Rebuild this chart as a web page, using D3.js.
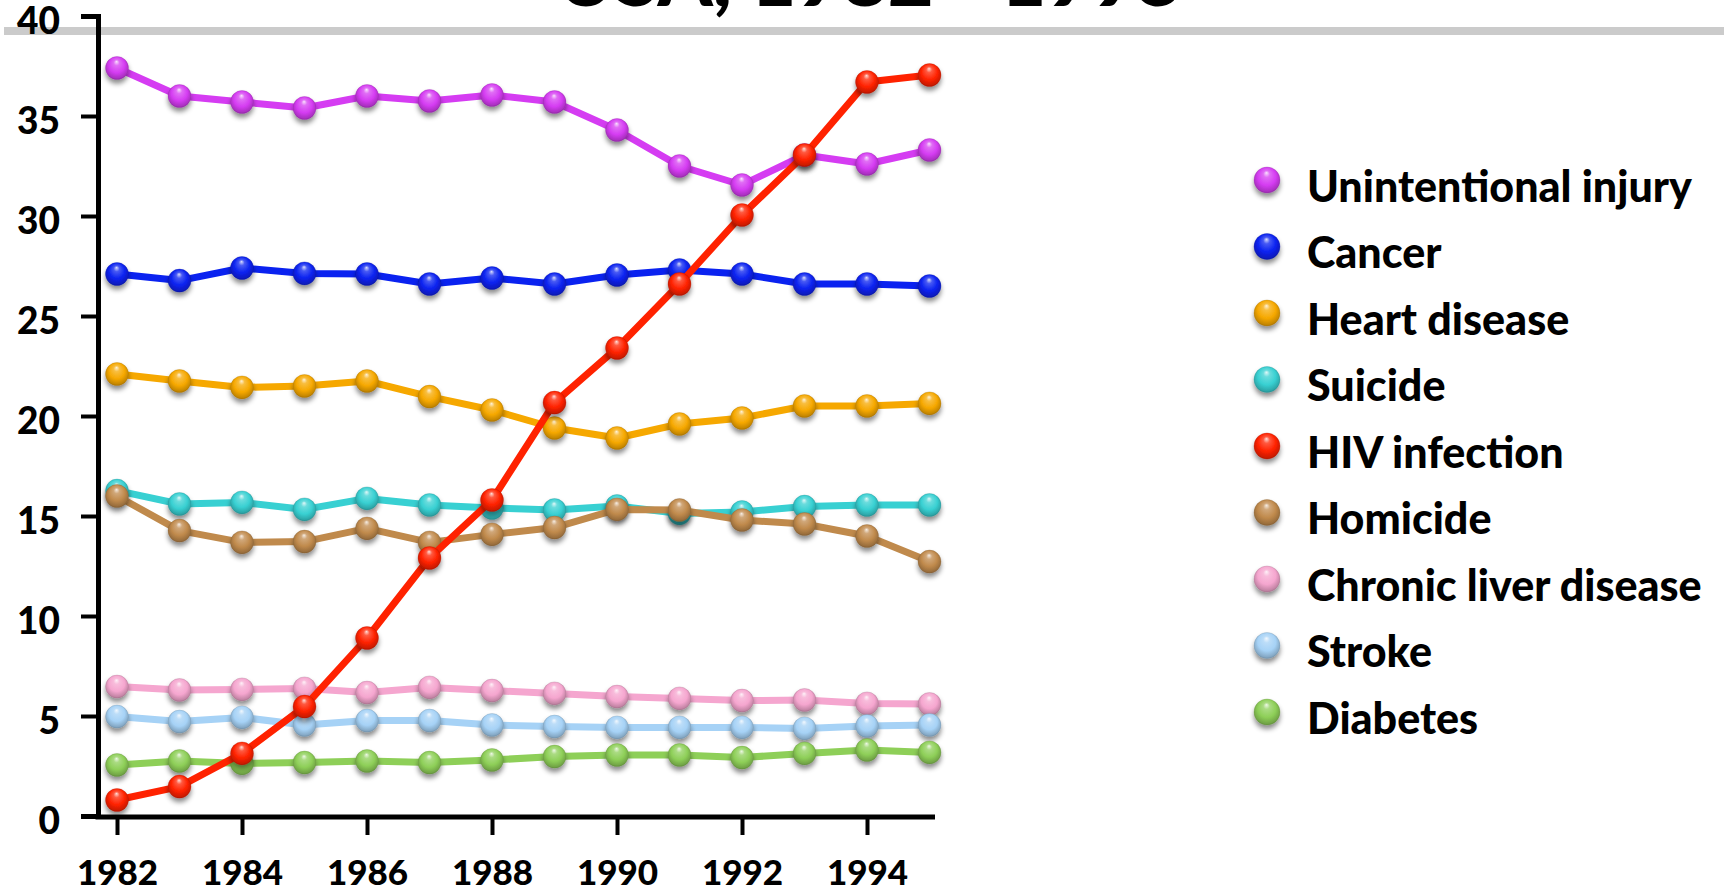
<!DOCTYPE html>
<html>
<head>
<meta charset="utf-8">
<script src="https://cdn.jsdelivr.net/npm/d3@7"></script>
<style>
  html, body { margin: 0; padding: 0; background: #fff; overflow: hidden; }
  svg { display: block; }
  text { font-family: Lato, "Open Sans", sans-serif; font-weight: 900; fill: #000; }
</style>
</head>
<body>
<svg id="chart" width="1724" height="891"></svg>
<script>
// Years on the x axis
const years = [1982, 1983, 1984, 1985, 1986, 1987, 1988, 1989, 1990, 1991, 1992, 1993, 1994, 1995];
const xTickYears = [1982, 1984, 1986, 1988, 1990, 1992, 1994];
const yTicks = [0, 5, 10, 15, 20, 25, 30, 35, 40];

// Series names, in legend order
const seriesNames = ["Unintentional injury", "Cancer", "Heart disease", "Suicide", "HIV infection",
  "Homicide", "Chronic liver disease", "Stroke", "Diabetes"];

// Rates per year for each cause
const unintentional = [37.4, 36.0, 35.7, 35.4, 36.0, 35.75, 36.05, 35.7, 34.3, 32.5, 31.55, 33.05, 32.6, 33.3];
const cancer        = [27.1, 26.77, 27.4, 27.13, 27.1, 26.6, 26.9, 26.6, 27.05, 27.3, 27.1, 26.6, 26.6, 26.5];
const heartDisease  = [22.1, 21.75, 21.43, 21.5, 21.75, 20.97, 20.3, 19.4, 18.9, 19.6, 19.9, 20.5, 20.5, 20.63];
const suicide       = [16.27, 15.6, 15.68, 15.33, 15.88, 15.55, 15.4, 15.3, 15.5, 15.13, 15.2, 15.47, 15.55, 15.55];
const hiv           = [0.8, 1.47, 3.13, 5.47, 8.9, 12.9, 15.8, 20.67, 23.4, 26.6, 30.05, 33.05, 36.7, 37.05];
const homicide      = [16.0, 14.27, 13.68, 13.72, 14.38, 13.68, 14.08, 14.42, 15.33, 15.3, 14.8, 14.6, 14.0, 12.72];
const liverDisease  = [6.47, 6.3, 6.33, 6.38, 6.17, 6.43, 6.27, 6.13, 5.97, 5.88, 5.77, 5.8, 5.63, 5.6];
const stroke        = [4.97, 4.72, 4.93, 4.55, 4.77, 4.77, 4.55, 4.47, 4.43, 4.43, 4.43, 4.38, 4.5, 4.55];
const diabetes      = [2.55, 2.75, 2.63, 2.67, 2.75, 2.67, 2.8, 2.97, 3.05, 3.05, 2.92, 3.13, 3.3, 3.18];

const seriesColors = ["#d53cf2", "#0a22f0", "#f6a800", "#38d0d2", "#ff2200",
  "#c08a4c", "#f5a6cf", "#a6d2f6", "#8ecf58"];

const seriesValues = [unintentional, cancer, heartDisease, suicide, hiv,
  homicide, liverDisease, stroke, diabetes];

const series = seriesNames.map((name, i) => ({
  name, color: seriesColors[i], id: "s" + i,
  points: years.map((yr, j) => ({ year: yr, value: seriesValues[i][j] }))
}));

// HIV is painted last so it runs over every other line
const drawOrder = series.filter(s => s.name !== "HIV infection").concat(series.filter(s => s.name === "HIV infection"));

const svg = d3.select("#chart");
const defs = svg.append("defs");

// Soft shadow under the spheres
const shadow = defs.append("filter").attr("id", "shadow")
  .attr("x", "-60%").attr("y", "-60%").attr("width", "220%").attr("height", "240%");
shadow.append("feDropShadow").attr("dx", 0).attr("dy", 4).attr("stdDeviation", 2.6)
  .attr("flood-color", "#000").attr("flood-opacity", 0.45);

// Glossy sphere gradient for each colour
series.forEach(s => {
  const c = d3.color(s.color);
  const g = defs.append("radialGradient").attr("id", "grad-" + s.id)
    .attr("cx", "50%").attr("cy", "45%").attr("r", "58%")
    .attr("fx", "48%").attr("fy", "22%");
  g.append("stop").attr("offset", "0%").attr("stop-color", d3.interpolateRgb(c, "#fff")(0.85));
  g.append("stop").attr("offset", "22%").attr("stop-color", d3.interpolateRgb(c, "#fff")(0.25));
  g.append("stop").attr("offset", "60%").attr("stop-color", c.formatHex());
  g.append("stop").attr("offset", "88%").attr("stop-color", c.darker(0.6).formatHex());
  g.append("stop").attr("offset", "100%").attr("stop-color", c.darker(1.1).formatHex());
});

// Plot frame
const plotLeft = 98, plotRight = 935, plotTop = 16, plotBottom = 817;
const x = d3.scaleLinear().domain([1982, 1995]).range([plotLeft + 19, plotRight - 5.5]);
const y = d3.scaleLinear().domain([0, 40]).range([plotBottom - 1, plotTop]);

// Title, mostly above the visible area
const title = svg.append("text").attr("text-anchor", "middle")
  .attr("x", 870).attr("y", 6).style("font-size", "70px").text("USA, 1982 - 1995");
{
  const w = title.node().getComputedTextLength();
  title.style("font-size", (70 * 627 / w) + "px");
}

// Grey rule under the title
svg.append("rect").attr("x", 4).attr("y", 27).attr("width", 1720).attr("height", 8).attr("fill", "#cbcbcb");

// Y axis
const yAxis = svg.append("g").attr("transform", `translate(${plotLeft},0)`)
  .call(d3.axisLeft(y).tickValues(yTicks).tickSize(17).tickSizeOuter(17).tickPadding(21));
yAxis.select(".domain").attr("stroke", "#000").attr("stroke-width", 5).attr("fill", "none");
yAxis.selectAll(".tick line").attr("stroke", "#000").attr("stroke-width", 4);
yAxis.selectAll(".tick text").style("font-size", "37px").attr("dy", "0.46em")
  .style("font-family", "Lato, sans-serif").style("font-weight", 900);

// X axis
const xAxis = svg.append("g").attr("transform", `translate(0,${plotBottom})`)
  .call(d3.axisBottom(x).tickValues(xTickYears).tickFormat(d3.format("d")).tickSize(18).tickSizeOuter(0));
xAxis.select(".domain").attr("d", `M${plotLeft - 2.5},0H${plotRight}`)
  .attr("stroke", "#000").attr("stroke-width", 5);
xAxis.selectAll(".tick line").attr("stroke", "#000").attr("stroke-width", 4);
xAxis.selectAll(".tick text").attr("y", 68).attr("dy", 0).style("font-size", "35px")
  .style("font-family", "Lato, sans-serif").style("font-weight", 900);

// Lines and sphere markers
const line = d3.line().x(d => x(d.year)).y(d => y(d.value));
const groups = svg.append("g").selectAll("g.series").data(drawOrder).join("g").attr("class", "series");
groups.append("path").attr("d", d => line(d.points)).attr("fill", "none")
  .attr("stroke", d => d.color).attr("stroke-width", 7).attr("stroke-linejoin", "round");
groups.append("g").attr("filter", "url(#shadow)")
  .selectAll("circle").data(d => d.points.map(p => ({ ...p, s: d }))).join("circle")
  .attr("cx", d => x(d.year)).attr("cy", d => y(d.value)).attr("r", 11.5)
  .attr("fill", d => `url(#grad-${d.s.id})`)
  .attr("stroke", d => d3.color(d.s.color).darker(1.2).formatHex()).attr("stroke-opacity", 0.35).attr("stroke-width", 0.8);

// Legend
const legend = svg.append("g").attr("transform", "translate(1267,180)");
const items = legend.selectAll("g").data(series).join("g")
  .attr("transform", (d, i) => `translate(0,${i * 66.5})`);
items.append("circle").attr("r", 13).attr("fill", d => `url(#grad-${d.id})`)
  .attr("filter", "url(#shadow)")
  .attr("stroke", d => d3.color(d.color).darker(1.2).formatHex()).attr("stroke-opacity", 0.35).attr("stroke-width", 0.8);
items.append("text").attr("x", 40).attr("y", 21.5).style("font-size", "43px").text(d => d.name);
</script>
</body>
</html>
